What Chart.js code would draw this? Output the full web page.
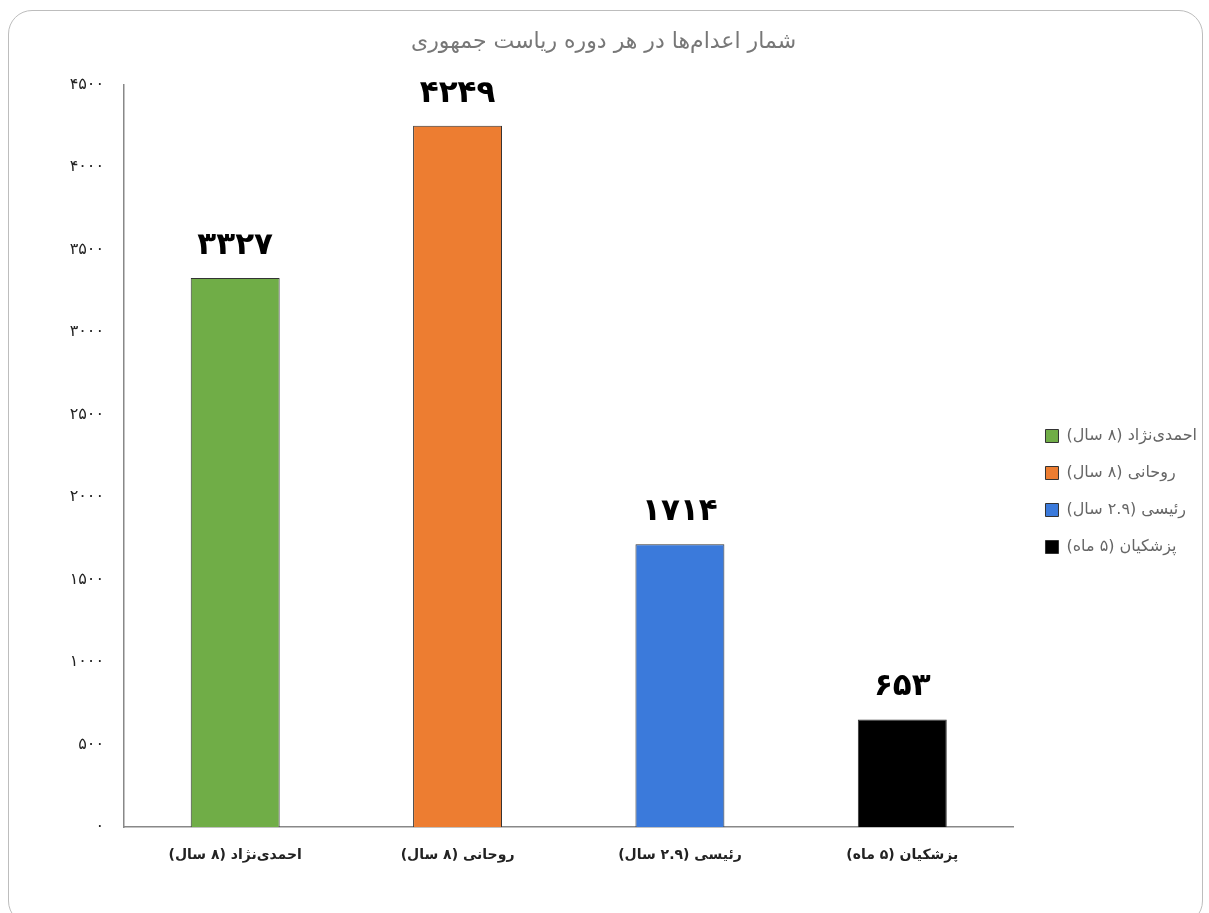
<!DOCTYPE html>
<html lang="fa">
<head>
<meta charset="utf-8">
<script src="https://cdn.jsdelivr.net/npm/chart.js@4.4.1/dist/chart.umd.min.js"></script>
<style>
  html, body { margin: 0; padding: 0; background: #fff; }
  #wrap { position: relative; width: 1209px; height: 913px; }
  #frame {
    position: absolute; left: 8px; top: 10px; width: 1195px; height: 915px;
    border: 1.5px solid #bdbdbd; border-radius: 24px; box-sizing: border-box;
    pointer-events: none;
  }
  canvas { position: absolute; left: 0; top: 0; }
</style>
</head>
<body>
<div id="wrap">
  <div id="frame"></div>
  <canvas id="chart" width="1209" height="913" dir="rtl"></canvas>
</div>
<script>
// chart data
var titleText = 'شمار اعدام‌ها در هر دوره ریاست جمهوری';
var categories = ['احمدی‌نژاد (۸ سال)', 'روحانی (۸ سال)', 'رئیسی (۲.۹ سال)', 'پزشکیان (۵ ماه)'];
var executions = [3327, 4249, 1714, 653];
var barColors = ['#70ad47', '#ed7d31', '#3b7adb', '#000000'];
var yMax = 4500;
var yStep = 500;

var FONT = "'DejaVu Sans', sans-serif";

function faDigits(n) {
    var d = '۰۱۲۳۴۵۶۷۸۹';
    return String(n).replace(/[0-9]/g, function(c) { return d[+c]; });
}

// value labels above bars
var valueLabels = {
    id: 'valueLabels',
    afterDatasetsDraw: function(chart) {
        var ctx = chart.ctx;
        var meta = chart.getDatasetMeta(0);
        ctx.save();
        ctx.font = 'bold 31px ' + FONT;
        ctx.fillStyle = '#000';
        ctx.textAlign = 'center';
        ctx.textBaseline = 'middle';
        meta.data.forEach(function(bar, i) {
            ctx.fillText(faDigits(executions[i]), bar.x, bar.y - 32);
        });
        ctx.restore();
    }
};

// a bit more room between the plot and the legend
var legendGap = {
    id: 'legendGap',
    afterInit: function(chart) {
        var lg = chart.legend;
        if (!lg) return;
        var fit = lg.fit, draw = lg.draw;
        lg.fit = function() { fit.call(this); this.width += 11; };
        lg.draw = function() {
            this.ctx.save();
            this.ctx.translate(11, 0);
            draw.call(this);
            this.ctx.restore();
        };
    }
};

var ctx = document.getElementById('chart').getContext('2d');
var chart = new Chart(ctx, {
    type: 'bar',
    data: {
        labels: categories,
        datasets: [{
            data: executions,
            backgroundColor: barColors,
            borderColor: '#333',
            borderWidth: 1,
            barPercentage: 0.4,
            categoryPercentage: 1
        }]
    },
    options: {
        responsive: false,
        animation: false,
        layout: { padding: { left: 0, right: 2, bottom: 37 } },
        plugins: {
            title: {
                display: true,
                text: titleText,
                color: '#777',
                font: { family: FONT, size: 22, weight: 'normal' },
                padding: { top: 29, bottom: 29 }
            },
            legend: {
                position: 'right',
                align: 'center',
                textDirection: 'rtl',
                title: {
                    display: true,
                    text: ' ',
                    font: { size: 10 },
                    padding: { top: 95, bottom: 0 }
                },
                labels: {
                    color: '#111',
                    font: { family: FONT, size: 16 },
                    boxWidth: 13,
                    boxHeight: 13,
                    padding: 21,
                    generateLabels: function(chart) {
                        return categories.map(function(c, i) {
                            return {
                                text: c,
                                fillStyle: barColors[i],
                                strokeStyle: '#333',
                                lineWidth: 1,
                                hidden: false,
                                index: i
                            };
                        });
                    }
                }
            },
            tooltip: { enabled: false }
        },
        scales: {
            x: {
                grid: { display: false },
                border: { display: true, color: '#888', width: 1.5 },
                ticks: {
                    color: '#222',
                    font: { family: FONT, size: 14, weight: 'bold' },
                    padding: 12,
                    maxRotation: 0
                }
            },
            y: {
                min: 0,
                max: yMax,
                grid: { display: false, drawTicks: false },
                border: { display: true, color: '#888', width: 1.5 },
                ticks: {
                    stepSize: yStep,
                    color: '#222',
                    font: { family: FONT, size: 16 },
                    padding: 20,
                    callback: function(v) { return faDigits(v); }
                },
                afterFit: function(scale) { scale.width = 124; }
            }
        }
    },
    plugins: [valueLabels, legendGap]
});
</script>
</body>
</html>
